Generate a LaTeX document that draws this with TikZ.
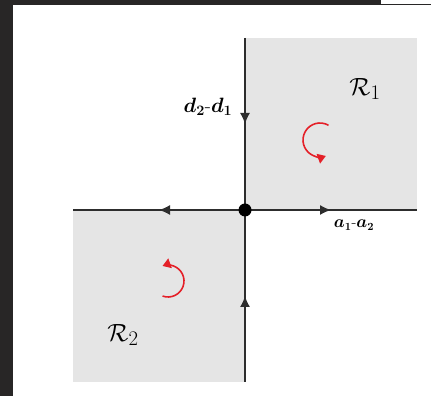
\documentclass[tikz,border=0pt]{standalone}
\usepackage{amsmath}
\usepackage{amssymb}
\usetikzlibrary{calc, positioning}
\usetikzlibrary{arrows.meta}
\usetikzlibrary{decorations.markings}

\definecolor{regiongray}{RGB}{229,229,229}
\definecolor{axisgray}{RGB}{45,45,45}
\definecolor{flowred}{RGB}{228,32,40}
\definecolor{screendark}{RGB}{40,38,38}

\begin{document}
\begin{tikzpicture}[x=1pt, y=1pt,
  axis/.style={axisgray, line width=1.4pt},
  midarrow/.style={postaction={decorate}, decoration={markings,
    mark=at position 0.5 with {\arrow{Latex[length=11pt,width=10pt]}}}},
  flow/.style={flowred, line width=1.6pt, -{Triangle[length=8pt,width=10pt]}},
  region/.style={font=\fontsize{31}{34}\selectfont},
  hand/.style={font=\fontsize{#1}{#1}\selectfont\boldmath}]
\useasboundingbox (0,0) rectangle (431,396);
\def\s{172}

% screenshot frame
\fill[white] (0,0) rectangle (431,396);
\fill[screendark] (0,0) rectangle (13,396);
\fill[screendark] (0,391) rectangle (381,396);
\draw[screendark, line width=1pt] (381,391.5) -- (431,391.5);

\coordinate (O) at (245,186);
\coordinate (T) at (245,186+\s);
\coordinate (B) at (245,186-\s);
\coordinate (L) at (245-\s,186);
\coordinate (R) at (245+\s,186);

\fill[regiongray] (O) rectangle (R |- T);
\fill[regiongray] (L |- B) rectangle (O);

\draw[axis, midarrow] (T) -- (O);
\draw[axis, midarrow] (B) -- (O);
\draw[axis, midarrow] (O) -- (L);
\draw[axis, midarrow] (O) -- (R);
\fill[black] (O) circle (6.5);

\draw[flow] ($(320,256)+(60:17)$) arc (60:290:17);
\draw[flow] ($(168,115)+(-110:16)$) arc (-110:110:16);

\node[region] (regA) at (365,307) {$\mathcal{R}_1$};
\node[region] (regB) at (123,61) {$\mathcal{R}_2$};
\node[hand=20] (lblD) at (208,289) {$d_2$-$d_1$};
\node[hand=16] (lblA) at (354,171) {$a_1$-$a_2$};
\end{tikzpicture}
\end{document}
